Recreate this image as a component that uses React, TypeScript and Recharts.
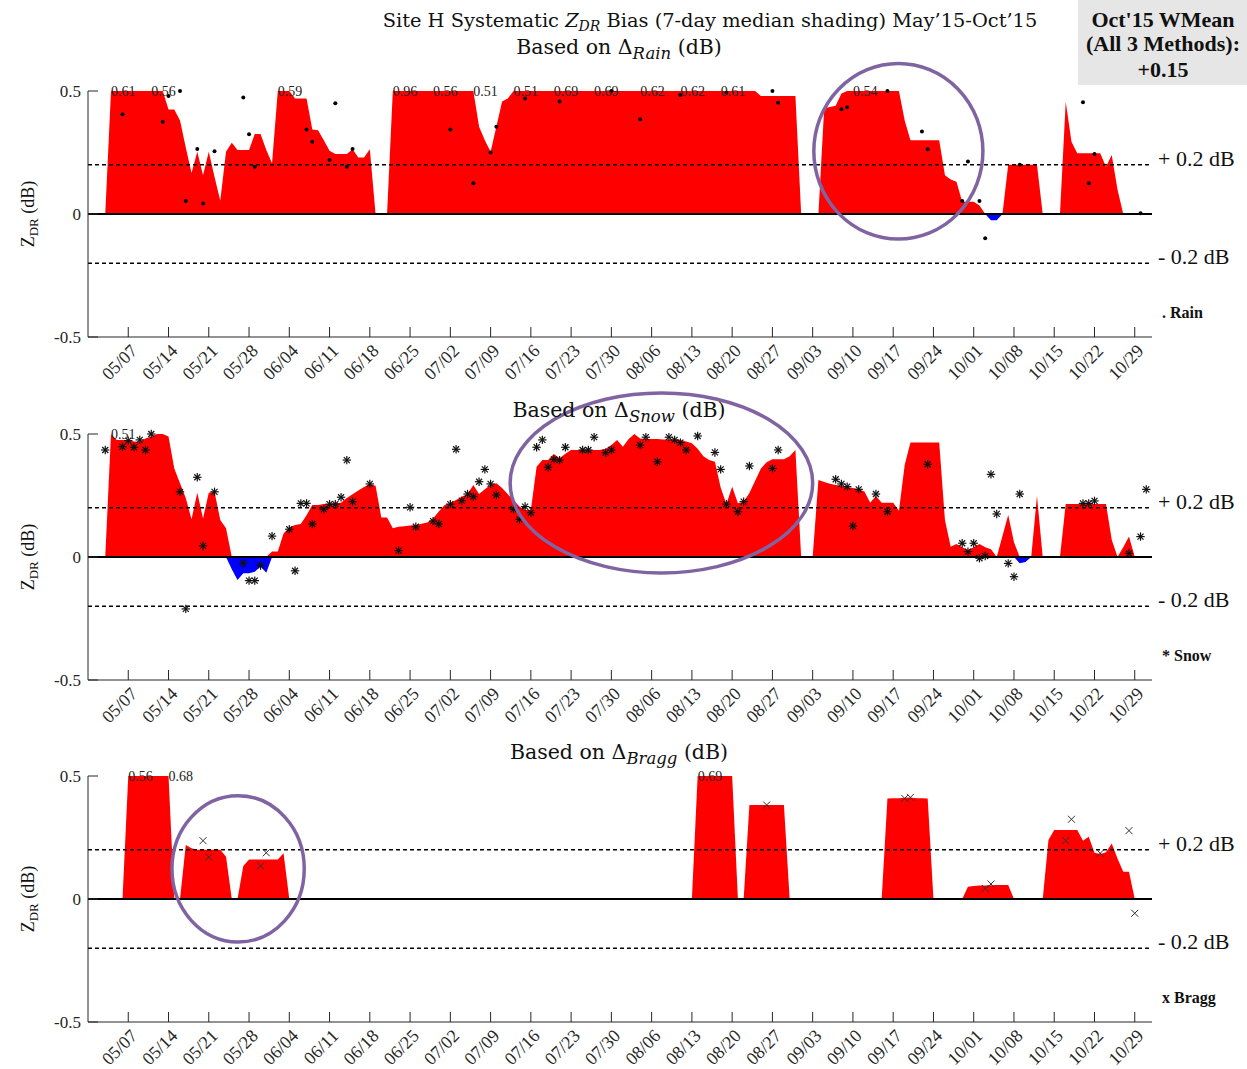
import { ComposedChart, Area, Scatter, XAxis, YAxis, ReferenceLine, ReferenceArea } from 'recharts';

const SERIF = '"Liberation Serif", "DejaVu Serif", serif';
const TITLE_FONT = '"DejaVu Serif", "Liberation Serif", serif';
const INK = '#262626';

// x values are day-of-year 2015 (05/07 = day 127), weekly ticks
const tickLabels = [
  '05/07', '05/14', '05/21', '05/28', '06/04', '06/11', '06/18', '06/25', '07/02', '07/09',
  '07/16', '07/23', '07/30', '08/06', '08/13', '08/20', '08/27', '09/03', '09/10', '09/17',
  '09/24', '10/01', '10/08', '10/15', '10/22', '10/29',
];
const firstTickDay = 127;
const tickDays = tickLabels.map((_, i) => firstTickDay + i * 7);
const dayDomain: [number, number] = [120, 305];
const zdrTicks = [-0.5, 0, 0.5];
const zdrMax = 0.5;

type Run = [number, number[]];

// 7-day median Z_DR bias (dB), one value per day from the run's first day
const rainFirstDay = 123;
const rainMedian = [
  0, 0.61, 0.58, 0.57, 0.55, 0.55, 0.57, 0.58, 0.56, 0.54, // 123
  0.5, 0.425, 0.425, 0.38, 0.27, 0.167, 0.253, 0.158, 0.253, 0.15, // 133
  0.054, 0.253, 0.29, 0.26, 0.26, 0.26, 0.325, 0.325, 0.26, 0.206, // 143
  0.59, 0.57, 0.55, 0.47, 0.47, 0.47, 0.344, 0.34, 0.3, 0.257, // 153
  0.244, 0.244, 0.244, 0.263, 0.23, 0.23, 0.263, 0, 0, 0, // 163
  0.96, 0.9, 0.85, 0.8, 0.72, 0.66, 0.6, 0.56, 0.55, 0.54, // 173
  0.53, 0.53, 0.52, 0.52, 0.51, 0.355, 0.3, 0.253, 0.355, 0.457, // 183
  0.47, 0.51, 0.55, 0.58, 0.6, 0.62, 0.65, 0.67, 0.69, 0.7, // 193
  0.7, 0.7, 0.69, 0.69, 0.69, 0.69, 0.68, 0.66, 0.65, 0.64, // 203
  0.63, 0.63, 0.62, 0.62, 0.62, 0.62, 0.62, 0.62, 0.62, 0.62, // 213
  0.62, 0.62, 0.62, 0.61, 0.61, 0.61, 0.61, 0.61, 0.58, 0.56, // 223
  0.55, 0.53, 0.52, 0.51, 0.48, 0.48, 0.48, 0.48, 0.48, 0.48, // 233
  0.48, 0, 0, 0, 0, 0.43, 0.435, 0.44, 0.49, 0.5, // 243
  0.54, 0.55, 0.56, 0.56, 0.55, 0.54, 0.53, 0.52, 0.51, 0.38, // 253
  0.3, 0.3, 0.3, 0.3, 0.3, 0.3, 0.158, 0.14, 0.131, 0.05, // 263
  0.05, 0.05, 0.035, 0, -0.025, -0.025, 0, 0.2, 0.2, 0.2, // 273
  0.2, 0.2, 0.2, 0, 0, 0, 0, 0.456, 0.294, 0.247, // 283
  0.247, 0.247, 0.247, 0.247, 0.192, 0.24, 0.1, 0, // 293
];
const rainPoints: [number, number][] = [
  [126, 0.405], [133, 0.375], [134, 0.48], [136, 0.5], [137, 0.053], [139, 0.264], [140, 0.043],
  [142, 0.255], [147, 0.474], [148, 0.324], [149, 0.192], [158, 0.344], [159, 0.294], [162, 0.22],
  [163, 0.45], [165, 0.192], [166, 0.264], [183, 0.344], [187, 0.125], [190, 0.25], [191, 0.355],
  [196, 0.47], [202, 0.457], [211, 0.5], [216, 0.385], [223, 0.484], [231, 0.493], [239, 0.5],
  [240, 0.452], [251, 0.426], [252, 0.434], [259, 0.5], [265, 0.335], [266, 0.263], [272, 0.053],
  [273, 0.213], [275, 0.053], [276, -0.099], [282, 0.2], [293, 0.454], [294, 0.125], [295, 0.244],
  [303, 0.003],
];
const rainPeakDays = [124, 131, 153, 173, 180, 187, 194, 201, 208, 216, 223, 230, 253];

const snowFirstDay = 123;
const snowMedian = [
  0, 0.51, 0.476, 0.476, 0.475, 0.47, 0.469, 0.482, 0.49, 0.5, // 123
  0.5, 0.49, 0.36, 0.3, 0.24, 0.153, 0.261, 0.157, 0.261, 0.265, // 133
  0.15, 0.117, -0.05, -0.093, -0.066, -0.066, -0.06, -0.039, -0.064, 0.022, // 143
  0.022, 0.096, 0.12, 0.13, 0.134, 0.17, 0.211, 0.211, 0.215, 0.215, // 153
  0.218, 0.221, 0.24, 0.255, 0.27, 0.285, 0.297, 0.29, 0.161, 0.161, // 163
  0.117, 0.123, 0.125, 0.128, 0.13, 0.135, 0.14, 0.157, 0.185, 0.211, // 173
  0.22, 0.232, 0.245, 0.256, 0.293, 0.256, 0.275, 0.293, 0.3, 0.28, // 183
  0.255, 0.232, 0.205, 0.191, 0.191, 0.367, 0.394, 0.394, 0.419, 0.401, // 193
  0.42, 0.435, 0.435, 0.435, 0.435, 0.435, 0.435, 0.44, 0.455, 0.476, // 203
  0.448, 0.48, 0.5, 0.482, 0.48, 0.48, 0.48, 0.478, 0.478, 0.477, // 213
  0.476, 0.47, 0.462, 0.44, 0.41, 0.394, 0.387, 0.283, 0.215, 0.286, // 223
  0.218, 0.225, 0.26, 0.31, 0.36, 0.385, 0.397, 0.397, 0.397, 0.41, // 233
  0.435, 0, 0, 0, 0.313, 0.305, 0.298, 0.293, 0.29, 0.285, // 243
  0.28, 0.275, 0.266, 0.221, 0.248, 0.221, 0.221, 0.221, 0.188, 0.374, // 253
  0.465, 0.465, 0.465, 0.465, 0.465, 0.465, 0.15, 0.042, 0.053, 0.04, // 263
  0.028, 0.04, 0.053, 0.04, 0.031, 0, 0.085, 0.171, 0.06, -0.025, // 273
  -0.02, 0, 0.248, 0, 0, 0, 0, 0.215, 0.215, 0.215, // 283
  0.215, 0.215, 0.215, 0.215, 0.215, 0.07, 0, 0.04, 0.083, 0, // 293
];
const snowPoints: [number, number][] = [
  [123, 0.435], [126, 0.448], [127, 0.473], [128, 0.446], [129, 0.476], [130, 0.435], [131, 0.5],
  [136, 0.265], [137, -0.211], [139, 0.324], [140, 0.045], [142, 0.265], [147, -0.026], [148, -0.096],
  [149, -0.096], [150, -0.035], [152, 0.085], [155, 0.113], [156, -0.056], [157, 0.218], [158, 0.218],
  [159, 0.134], [161, 0.194], [162, 0.215], [163, 0.215], [164, 0.243], [165, 0.394], [166, 0.225],
  [169, 0.297], [174, 0.026], [176, 0.202], [177, 0.123], [180, 0.146], [181, 0.134], [183, 0.215],
  [184, 0.438], [185, 0.229], [186, 0.256], [187, 0.245], [188, 0.306], [189, 0.356], [190, 0.297],
  [191, 0.252], [194, 0.194], [195, 0.153], [196, 0.205], [197, 0.18], [198, 0.446], [199, 0.476],
  [200, 0.365], [201, 0.397], [202, 0.394], [203, 0.446], [206, 0.435], [207, 0.435], [208, 0.487],
  [210, 0.424], [211, 0.435], [216, 0.455], [217, 0.487], [219, 0.387], [221, 0.487], [222, 0.476],
  [223, 0.465], [224, 0.435], [226, 0.492], [229, 0.425], [230, 0.356], [231, 0.215], [233, 0.184],
  [234, 0.225], [235, 0.37], [239, 0.36], [240, 0.435], [250, 0.316], [251, 0.297], [252, 0.286],
  [253, 0.126], [254, 0.275], [257, 0.256], [259, 0.184], [266, 0.377], [272, 0.056], [273, 0.022],
  [274, 0.056], [275, -0.005], [276, 0.004], [277, 0.336], [278, 0.175], [280, -0.026], [281, -0.08],
  [282, 0.256], [293, 0.218], [294, 0.218], [295, 0.228], [301, 0.015], [303, 0.083], [304, 0.275],
];
const snowPeakDays = [124];

// Bragg only has scattered weeks, so it is kept as separate runs
const braggRuns: Run[] = [
  [126, [0, 0.56, 0.56, 0.57, 0.6, 0.62, 0.65, 0.66, 0.68, 0, 0, 0.22, 0.206, 0.2, 0.2,
    0.2, 0.2, 0.2, 0.172, 0, 0, 0.134, 0.161, 0.161, 0.161, 0.161, 0.161, 0.161, 0.186, 0]],
  [225, [0, 0.69, 0.65, 0.62, 0.6, 0.58, 0.55, 0.52, 0, 0, 0.382, 0.382, 0.382, 0.382, 0.382,
    0.382, 0.382, 0]],
  [258, [0, 0.409, 0.41, 0.41, 0.412, 0.413, 0.41, 0.41, 0.409, 0]],
  [272, [0, 0.05, 0.053, 0.055, 0.055, 0.056, 0.057, 0.057, 0.057, 0]],
  [286, [0, 0.24, 0.28, 0.28, 0.28, 0.28, 0.28, 0.237, 0.253, 0.188, 0.183, 0.19, 0.226, 0.165,
    0.111, 0.111, 0]],
];
const braggPoints: [number, number][] = [
  [140, 0.237], [141, 0.17], [150, 0.134], [151, 0.188], [238, 0.382], [262, 0.409], [263, 0.413],
  [276, 0.043], [277, 0.061], [290, 0.237], [291, 0.324], [296, 0.186], [301, 0.278], [302, -0.058],
];
const braggPeakDays = [127, 134, 226];

// layout
const CHART_W = 1247;
const PLOT_H = 246;
const AXIS_LEFT = 88;
const X_AXIS_H = 55;
const MARGIN = { top: 45, right: 95, bottom: 0, left: 0 };
const CHART_H = MARGIN.top + PLOT_H + X_AXIS_H;
const plotTops = [91, 434, 776];
const subtitleY = [54, 417, 759];

function buildRows(runs: Run[]) {
  const rows: { day: number; v: number; red: number; blue: number }[] = [];
  runs.forEach(([start, vals]) => {
    vals.forEach((v, i) => {
      rows.push({ day: start + i, v, red: Math.min(Math.max(v, 0), zdrMax), blue: Math.min(v, 0) });
    });
  });
  return rows;
}

function XTick(props: any) {
  const { x, y, payload } = props;
  const label = tickLabels[Math.round((payload.value - firstTickDay) / 7)];
  return (
    <g>
      <line x1={x} y1={y} x2={x} y2={y - 10} stroke={INK} strokeWidth={1} />
      <text
        transform={`translate(${x + 10},${y + 15}) rotate(-45)`}
        textAnchor="end"
        fontFamily={SERIF}
        fontSize={18}
        fill={INK}
      >
        {label}
      </text>
    </g>
  );
}

function YTick(props: any) {
  const { x, y, payload } = props;
  return (
    <g>
      <line x1={x} y1={y} x2={x + 10} y2={y} stroke={INK} strokeWidth={1} />
      <text x={x - 7} y={y + 6} textAnchor="end" fontFamily={SERIF} fontSize={17} fill={INK}>
        {payload.value}
      </text>
    </g>
  );
}

function RainDot(p: any) {
  return <circle cx={p.cx} cy={p.cy} r={2} fill="#000" />;
}

function SnowStar(p: any) {
  const { cx, cy } = p;
  const s = 4.2;
  const d = 3;
  return (
    <g stroke="#111" strokeWidth={1.2}>
      <line x1={cx - s} y1={cy} x2={cx + s} y2={cy} />
      <line x1={cx} y1={cy - s} x2={cx} y2={cy + s} />
      <line x1={cx - d} y1={cy - d} x2={cx + d} y2={cy + d} />
      <line x1={cx - d} y1={cy + d} x2={cx + d} y2={cy - d} />
    </g>
  );
}

function BraggCross(p: any) {
  const { cx, cy } = p;
  const d = 3.5;
  return (
    <g stroke="#333" strokeWidth={1}>
      <line x1={cx - d} y1={cy - d} x2={cx + d} y2={cy + d} />
      <line x1={cx - d} y1={cy + d} x2={cx + d} y2={cy - d} />
    </g>
  );
}

// value of a median that runs off the top of the axis
function PeakLabel(p: any) {
  return (
    <text x={p.cx} y={p.cy + 5} fontFamily={SERIF} fontSize={14} fill="#222">
      {p.payload.v.toFixed(2)}
    </text>
  );
}

function Ring(p: any) {
  const { x, y, width, height } = p;
  return (
    <ellipse
      cx={x + width / 2}
      cy={y + height / 2}
      rx={Math.abs(width) / 2}
      ry={Math.abs(height) / 2}
      fill="none"
      stroke="#8064a2"
      strokeWidth={3.5}
    />
  );
}

const sideLabel = (text: string) => (props: any) => {
  const vb = props.viewBox || { x: 0, y: 0, width: 0 };
  return (
    <text x={vb.x + vb.width + 6} y={vb.y + 1} fontFamily={SERIF} fontSize={22} fill="#111">
      {text}
    </text>
  );
};

type PanelConfig = {
  runs: Run[];
  points: [number, number][];
  peakDays: number[];
  marker: (p: any) => any;
  ring: { x1: number; x2: number; y1: number; y2: number };
};

const panels: PanelConfig[] = [
  {
    runs: [[rainFirstDay, rainMedian]],
    points: rainPoints,
    peakDays: rainPeakDays,
    marker: RainDot,
    ring: { x1: 246.2, x2: 275.6, y1: -0.102, y2: 0.612 },
  },
  {
    runs: [[snowFirstDay, snowMedian]],
    points: snowPoints,
    peakDays: snowPeakDays,
    marker: SnowStar,
    ring: { x1: 193.4, x2: 246.0, y1: -0.065, y2: 0.667 },
  },
  {
    runs: braggRuns,
    points: braggPoints,
    peakDays: braggPeakDays,
    marker: BraggCross,
    ring: { x1: 134.6, x2: 157.6, y1: -0.175, y2: 0.42 },
  },
];

function Panel({ cfg, top }: { cfg: PanelConfig; top: number }) {
  const rows = buildRows(cfg.runs);
  const byDay = new Map(rows.map((r) => [r.day, r.v]));
  const peaks = cfg.peakDays.map((day) => ({ day, top: zdrMax, v: byDay.get(day) ?? 0 }));
  const points = cfg.points.map(([day, val]) => ({ day, val }));

  return (
    <div style={{ position: 'absolute', left: 0, top: top - MARGIN.top }}>
      <ComposedChart width={CHART_W} height={CHART_H} data={rows} margin={MARGIN}>
        <XAxis
          dataKey="day"
          type="number"
          domain={dayDomain}
          ticks={tickDays}
          interval={0}
          tick={<XTick />}
          tickLine={false}
          tickSize={0}
          tickMargin={0}
          height={X_AXIS_H}
          stroke={INK}
        />
        <YAxis
          type="number"
          domain={[-0.5, 0.5]}
          ticks={zdrTicks}
          interval={0}
          tick={<YTick />}
          tickLine={false}
          tickSize={0}
          tickMargin={0}
          width={AXIS_LEFT}
          stroke={INK}
        />
        <Area
          type="linear"
          dataKey="red"
          baseValue={0}
          fill="#ff0000"
          fillOpacity={1}
          stroke="none"
          dot={false}
          activeDot={false}
          isAnimationActive={false}
        />
        <Area
          type="linear"
          dataKey="blue"
          baseValue={0}
          fill="#0000ff"
          fillOpacity={1}
          stroke="none"
          dot={false}
          activeDot={false}
          isAnimationActive={false}
        />
        <ReferenceLine y={0.2} stroke="#000" strokeWidth={1.5} strokeDasharray="4 3" label={sideLabel('+ 0.2 dB')} />
        <ReferenceLine y={-0.2} stroke="#000" strokeWidth={1.5} strokeDasharray="4 3" label={sideLabel('- 0.2 dB')} />
        <ReferenceLine y={0} stroke="#000" strokeWidth={2} />
        <Scatter data={points} dataKey="val" shape={cfg.marker} isAnimationActive={false} />
        <Scatter data={peaks} dataKey="top" shape={PeakLabel} isAnimationActive={false} />
        <ReferenceArea
          x1={cfg.ring.x1}
          x2={cfg.ring.x2}
          y1={cfg.ring.y1}
          y2={cfg.ring.y2}
          ifOverflow="visible"
          shape={Ring}
          zIndex={1200}
        />
      </ComposedChart>
    </div>
  );
}

export default function App() {
  const subtitles = ['Rain', 'Snow', 'Bragg'];
  const legends = ['. Rain', '* Snow', 'x Bragg'];
  return (
    <div style={{ position: 'absolute', left: 0, top: 0, width: 1247, height: 1069, background: '#fff' }}>
      {panels.map((cfg, i) => (
        <Panel key={i} cfg={cfg} top={plotTops[i]} />
      ))}
      <svg
        width={1247}
        height={1069}
        style={{ position: 'absolute', left: 0, top: 0, pointerEvents: 'none' }}
        fontFamily={SERIF}
      >
        <rect x={1078} y={0} width={169} height={85} fill="#e6e6e6" />
        <g textAnchor="middle" fontWeight="bold" fontSize={22} fill="#111">
          <text x={1163} y={27}>Oct'15 WMean</text>
          <text x={1163} y={51}>(All 3 Methods):</text>
          <text x={1163} y={77}>+0.15</text>
        </g>
        <text x={710} y={27} textAnchor="middle" fontFamily={TITLE_FONT} fontSize={19.4} fill="#111">
          {'Site H Systematic '}
          <tspan fontStyle="italic">Z</tspan>
          <tspan fontStyle="italic" fontSize={14} dy={4}>DR</tspan>
          <tspan dy={-4}>{' Bias (7-day median shading) May\u201915-Oct\u201915'}</tspan>
        </text>
        {subtitles.map((s, i) => (
          <text key={s} x={619} y={subtitleY[i]} textAnchor="middle" fontFamily={TITLE_FONT} fontSize={20.5} fill="#111">
            {'Based on \u0394'}
            <tspan fontStyle="italic" fontSize={16.5} dy={5}>{s}</tspan>
            <tspan dy={-5}>{' (dB)'}</tspan>
          </text>
        ))}
        {plotTops.map((t, i) => (
          <g key={i}>
            <text
              transform={`translate(34,${t + PLOT_H / 2}) rotate(-90)`}
              textAnchor="middle"
              fontSize={18}
              fill="#111"
            >
              {'Z'}
              <tspan fontSize={13} dy={4}>DR</tspan>
              <tspan dy={-4}>{' (dB)'}</tspan>
            </text>
            <text x={1162} y={t + PLOT_H - 19} fontSize={16} fontWeight="bold" fill="#111">
              {legends[i]}
            </text>
          </g>
        ))}
      </svg>
    </div>
  );
}
